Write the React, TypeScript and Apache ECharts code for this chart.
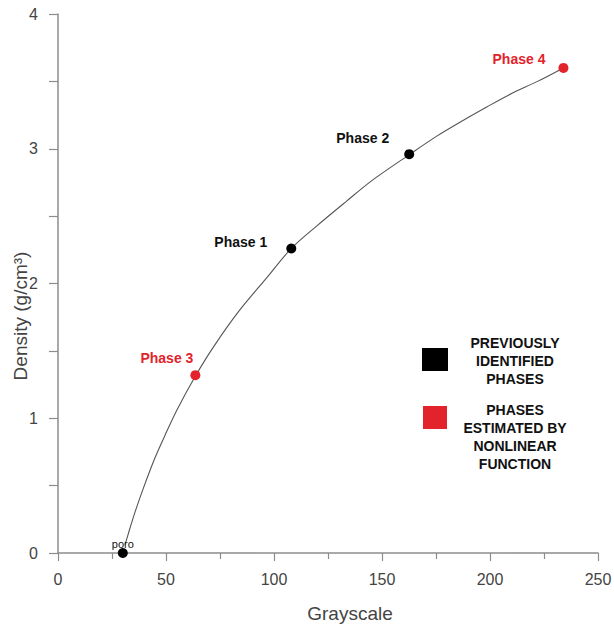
import React, { useEffect, useRef } from "react";
import * as echarts from "echarts";

// Previously identified phases (black)
const knownNames = ["poro", "Phase 1", "Phase 2"];
const knownGray = [30, 108, 162.6];
const knownDensity = [0, 2.26, 2.96];

// Phases estimated by nonlinear function (red)
const estNames = ["Phase 3", "Phase 4"];
const estGray = [63.6, 234];
const estDensity = [1.32, 3.6];

// Fitted curve
const curveGray = [31, 32.5, 34, 36, 39.5, 45, 50, 55, 63.5, 72, 84, 96.5, 108, 120, 133.5, 145, 163, 175, 187.5, 198.5, 210, 222, 234];
const curveDensity = [0.06, 0.14, 0.22, 0.32, 0.48, 0.71, 0.89, 1.06, 1.31, 1.53, 1.8, 2.04, 2.26, 2.43, 2.61, 2.76, 2.96, 3.09, 3.21, 3.31, 3.41, 3.5, 3.6];

// Axis ticks
const xTicks = { min: 0, max: 250, interval: 50 };
const yTicks = { min: 0, max: 4, interval: 1 };

// Legend entries
const legendLabels = ["PREVIOUSLY\nIDENTIFIED\nPHASES", "PHASES\nESTIMATED BY\nNONLINEAR\nFUNCTION"];

// Label placement (styles, not data)
const labelOffsets: Record<string, { position: string; align: string; offset: number[] }> = {
  poro: { position: "top", align: "center", offset: [0, 1] },
  "Phase 1": { position: "inside", align: "right", offset: [-24, -6] },
  "Phase 2": { position: "inside", align: "right", offset: [-20, -16] },
  "Phase 3": { position: "inside", align: "right", offset: [-2, -17] },
  "Phase 4": { position: "inside", align: "right", offset: [-18, -9] },
};

const RED = "#e3232c";
const AXIS = "#8c8c8c";
const FONT = "'Liberation Sans', Arial, sans-serif";

function pointData(names: string[], xs: number[], ys: number[], color: string) {
  return names.map((n, i) => {
    const lo = labelOffsets[n];
    const isPoro = n === "poro";
    return {
      name: n,
      value: [xs[i], ys[i]],
      label: {
        show: true,
        position: lo.position,
        distance: 0,
        formatter: "{b}",
        align: lo.align,
        verticalAlign: isPoro ? "bottom" : "middle",
        offset: lo.offset,
        color: color,
        textBorderWidth: 0,
        textBorderColor: "transparent",
        textShadowBlur: 0,
        fontFamily: FONT,
        fontSize: isPoro ? 11 : 14,
        fontWeight: isPoro ? "normal" : "bold",
      },
    };
  });
}

export default function App() {
  const ref = useRef<HTMLDivElement>(null);
  useEffect(() => {
    if (!ref.current) return;
    const chart = echarts.init(ref.current, undefined, { renderer: "svg" });
    const axisLabelStyle = { color: "#444", fontSize: 16, fontFamily: FONT };
    chart.setOption({
      animation: false,
      backgroundColor: "#fff",
      grid: { left: 58, right: 16, top: 14, bottom: 75, containLabel: false, outerBoundsMode: "none" },
      xAxis: {
        type: "value",
        min: xTicks.min,
        max: xTicks.max,
        interval: xTicks.interval,
        splitLine: { show: false },
        axisLine: { show: true, onZero: false, lineStyle: { color: AXIS, width: 1.5 } },
        axisTick: { show: true, inside: false, length: 8, lineStyle: { color: AXIS, width: 1.2 } },
        minorTick: { show: true, splitNumber: 2, length: 6, lineStyle: { color: AXIS, width: 1.2 } },
        axisLabel: { ...axisLabelStyle, margin: 18 },
      },
      yAxis: {
        type: "value",
        min: yTicks.min,
        max: yTicks.max,
        interval: yTicks.interval,
        splitLine: { show: false },
        axisLine: { show: true, onZero: false, lineStyle: { color: AXIS, width: 1.5 } },
        axisTick: { show: true, inside: false, length: 9, lineStyle: { color: AXIS, width: 1.2 } },
        minorTick: { show: true, splitNumber: 2, length: 9, lineStyle: { color: AXIS, width: 1.2 } },
        axisLabel: { ...axisLabelStyle, margin: 20 },
      },
      series: [
        {
          name: "Nonlinear function",
          type: "line",
          data: curveGray.map((x, i) => [x, curveDensity[i]]),
          smooth: 0.3,
          showSymbol: false,
          lineStyle: { color: "#555", width: 1.1 },
          z: 1,
          silent: true,
        },
        {
          name: "Previously identified phases",
          type: "scatter",
          symbolSize: 10,
          clip: false,
          itemStyle: { color: "#000", opacity: 1 },
          data: pointData(knownNames, knownGray, knownDensity, "#111"),
          z: 3,
        },
        {
          name: "Phases estimated by nonlinear function",
          type: "scatter",
          symbolSize: 10,
          clip: false,
          itemStyle: { color: RED, opacity: 1 },
          data: pointData(estNames, estGray, estDensity, RED),
          z: 3,
        },
      ],
      graphic: [
        {
          type: "text",
          x: 350,
          y: 613,
          style: { text: "Grayscale", align: "center", verticalAlign: "middle", fontSize: 19, fontFamily: FONT, fill: "#444" },
        },
        {
          type: "text",
          x: 20,
          y: 316,
          rotation: Math.PI / 2,
          style: { text: "Density (g/cm³)", align: "center", verticalAlign: "middle", fontSize: 19, fontFamily: FONT, fill: "#444" },
        },
        { type: "rect", shape: { x: 422, y: 348, width: 26, height: 23 }, style: { fill: "#000" } },
        { type: "rect", shape: { x: 423, y: 406, width: 24, height: 23 }, style: { fill: RED } },
        {
          type: "text",
          x: 515,
          y: 361,
          style: { text: legendLabels[0], align: "center", verticalAlign: "middle", fontSize: 14, fontWeight: "bold", lineHeight: 18, fontFamily: FONT, fill: "#111" },
        },
        {
          type: "text",
          x: 515,
          y: 437,
          style: { text: legendLabels[1], align: "center", verticalAlign: "middle", fontSize: 14, fontWeight: "bold", lineHeight: 18, fontFamily: FONT, fill: "#111" },
        },
      ],
    });
    return () => chart.dispose();
  }, []);
  return <div ref={ref} style={{ position: "fixed", left: 0, top: 0, width: 614, height: 628 }} />;
}
